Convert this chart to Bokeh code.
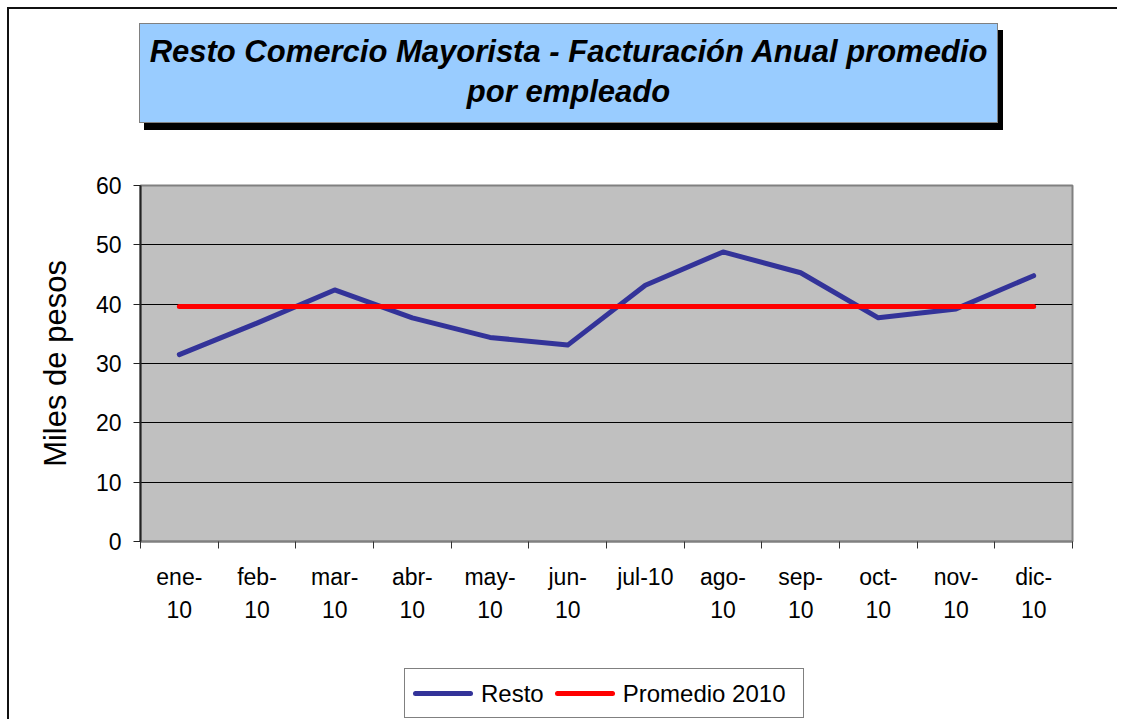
import numpy as np
from bokeh.plotting import figure
from bokeh.models import Range1d, FixedTicker, Div
from bokeh.layouts import column
from bokeh.embed import file_html
from bokeh.resources import INLINE

# ---- data ----
months = ["ene-\n10", "feb-\n10", "mar-\n10", "abr-\n10", "may-\n10", "jun-\n10",
          "jul-10", "ago-\n10", "sep-\n10", "oct-\n10", "nov-\n10", "dic-\n10"]
resto = [31.5, 36.8, 42.4, 37.7, 34.4, 33.1, 43.2, 48.8, 45.3, 37.7, 39.2, 44.8]
promedio = [39.6, 39.6, 39.6, 39.6, 39.6, 39.6, 39.6, 39.6, 39.6, 39.6, 39.6, 39.6]
y_ticks = [0, 10, 20, 30, 40, 50, 60]
series_names = ["Resto", "Promedio 2010"]
series_colors = ["#333399", "#FF0000"]

title_lines = ["Resto Comercio Mayorista - Facturación Anual promedio", "por empleado"]

FONT = "Liberation Sans"

x = np.arange(len(months)) + 0.5

W, H = 1110, 712
p = figure(width=W, height=H, output_backend="svg", toolbar_location=None,
           x_range=Range1d(0, len(months)), y_range=Range1d(0, 60),
           min_border_left=131, min_border_right=47, min_border_top=176,
           min_border_bottom=180,
           background_fill_color="#C0C0C0", border_fill_color="white",
           styles={"margin-left": "7px", "margin-top": "7px",
                   "border-left": "2px solid #111111",
                   "border-top": "2px solid #111111"})

p.outline_line_color = "#808080"
p.outline_line_width = 2

# grid
p.xgrid.visible = False
p.ygrid.ticker = FixedTicker(ticks=y_ticks)
p.ygrid.grid_line_color = "black"
p.ygrid.grid_line_width = 1

# y axis
p.yaxis.ticker = FixedTicker(ticks=y_ticks)
p.yaxis.axis_line_color = "#222222"
p.yaxis.axis_line_width = 2
p.yaxis.major_tick_line_color = "#222222"
p.yaxis.major_tick_out = 7
p.yaxis.major_tick_in = 0
p.yaxis.minor_tick_line_color = None
p.yaxis.major_label_text_font = FONT
p.yaxis.major_label_text_font_size = "23px"
p.yaxis.major_label_text_color = "black"
p.yaxis.major_label_standoff = 12
p.yaxis.axis_label = "Miles de pesos"
p.yaxis.axis_label_text_font = FONT
p.yaxis.axis_label_text_font_size = "31px"
p.yaxis.axis_label_text_font_style = "normal"
p.yaxis.axis_label_text_color = "black"
p.yaxis.axis_label_standoff = 20

# x axis
p.xaxis.ticker = FixedTicker(ticks=list(x), minor_ticks=list(range(len(months) + 1)))
p.xaxis.major_label_overrides = {float(v): m for v, m in zip(x, months)}
p.xaxis.axis_line_color = "#808080"
p.xaxis.axis_line_width = 2
p.xaxis.major_tick_line_color = None
p.xaxis.minor_tick_line_color = "#333333"
p.xaxis.minor_tick_out = 7
p.xaxis.minor_tick_in = 0
p.xaxis.major_label_text_font = FONT
p.xaxis.major_label_text_font_size = "23px"
p.xaxis.major_label_text_color = "black"
p.xaxis.major_label_text_line_height = 1.3
p.xaxis.major_label_standoff = 15

# lines
r1 = p.line(x, resto, line_color=series_colors[0], line_width=5, line_cap="round",
            line_join="round", legend_label=series_names[0])
r2 = p.line(x, promedio, line_color=series_colors[1], line_width=5, line_cap="round",
            legend_label=series_names[1])
p.legend.visible = False  # the SVG backend clips legends outside the frame; drawn below as HTML

# ---- title box (HTML overlay) ----
title_div = Div(
    text="<br>".join(title_lines),
    width=859, height=100, margin=0,
    styles={"position": "absolute", "top": "23px", "left": "139px", "z-index": "5",
            "box-sizing": "border-box", "background-color": "#99CCFF",
            "border": "1px solid #808080", "box-shadow": "5px 7px 0px #000000",
            "font-family": FONT, "font-size": "31px", "font-weight": "bold",
            "font-style": "italic", "color": "black", "text-align": "center",
            "line-height": "40px", "display": "flex", "align-items": "center",
            "justify-content": "center", "padding-bottom": "3px"})

# ---- legend box (HTML overlay) ----
def swatch(c):
    return ('<span style="display:inline-block;width:60px;height:5px;border-radius:3px;'
            'vertical-align:middle;margin-right:8px;background:%s"></span>' % c)

legend_html = "".join(
    '<span style="margin-right:11px;white-space:nowrap">%s<span style="vertical-align:middle">%s</span></span>'
    % (swatch(c), n) for c, n in zip(series_colors, series_names))

legend_div = Div(
    text=legend_html, width=400, height=50, margin=0,
    styles={"position": "absolute", "top": "668px", "left": "404px", "z-index": "5",
            "box-sizing": "border-box", "background-color": "white",
            "border": "1px solid #808080", "font-family": FONT, "font-size": "24px",
            "color": "black", "display": "flex", "align-items": "center",
            "justify-content": "flex-start", "padding-left": "8px",
            "white-space": "nowrap"})

layout = column(p, title_div, legend_div, spacing=0, styles={"position": "relative"})

open("out.html", "w").write(file_html(layout, INLINE))
